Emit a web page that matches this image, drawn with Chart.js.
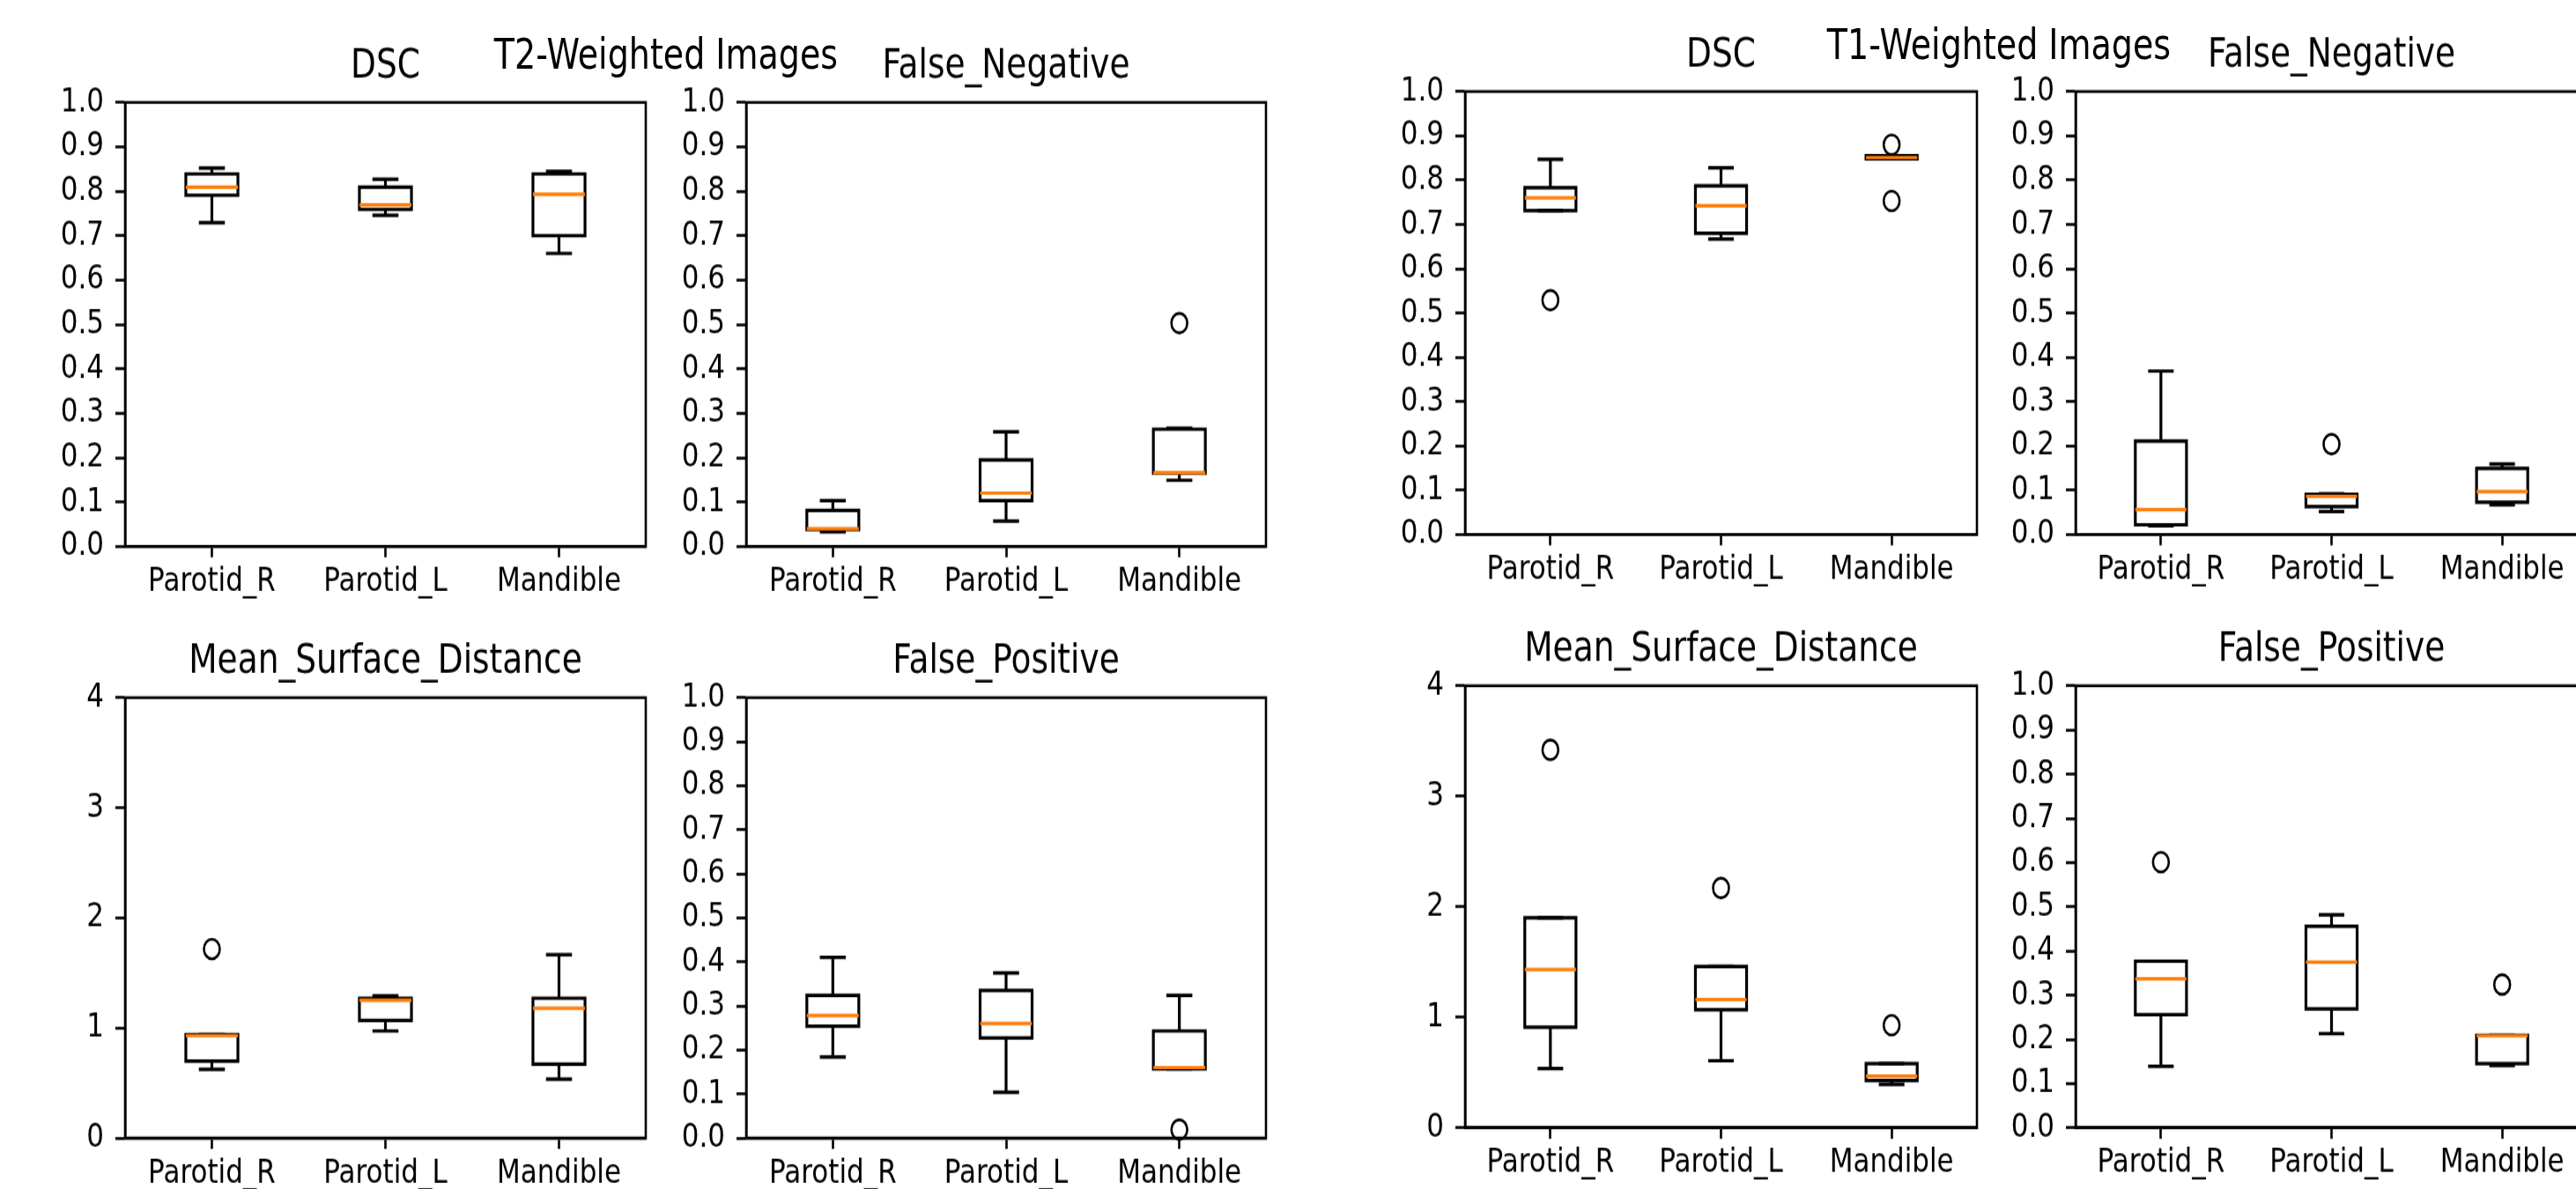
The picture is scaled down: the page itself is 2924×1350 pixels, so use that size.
<!DOCTYPE html>
<html>
<head>
<meta charset="utf-8">
<title>T2 / T1 weighted boxplots</title>
<script src="https://cdn.jsdelivr.net/npm/chart.js@4.4.1/dist/chart.umd.min.js"></script>
<style>
  html, body { margin: 0; padding: 0; background: #fff; overflow: hidden; }
  body { width: 2924px; height: 1350px; position: relative; }
  #stage { position: absolute; left: 0; top: 0; width: 2924px; height: 1089px; transform-origin: 0 0; }
  .panel { position: absolute; }
  .suptitle { position: absolute; width: 700px; text-align: center; color: #000;
              font-family: "DejaVu Sans"; font-size: 38px; line-height: 38px; white-space: nowrap; }
</style>
</head>
<body>
<div id="stage"></div>
<script>
const CATEGORIES = ['Parotid_R', 'Parotid_L', 'Mandible'];
const FRACTION_TICKS = ['0.0', '0.1', '0.2', '0.3', '0.4', '0.5', '0.6', '0.7', '0.8', '0.9', '1.0'];
const DISTANCE_TICKS = ['0', '1', '2', '3', '4'];

// one row per category: [lower whisker, q1, median, q3, upper whisker]
const T2_DSC = [[0.729, 0.791, 0.809, 0.839, 0.852], [0.746, 0.759, 0.769, 0.809, 0.827], [0.660, 0.700, 0.793, 0.839, 0.845]];
const T2_DSC_OUTLIERS = [[], [], []];
const T2_FN = [[0.033, 0.038, 0.040, 0.081, 0.103], [0.057, 0.103, 0.120, 0.195, 0.258], [0.149, 0.165, 0.166, 0.264, 0.266]];
const T2_FN_OUTLIERS = [[], [], [0.503]];
const T2_MSD = [[0.623, 0.698, 0.930, 0.940, 0.940], [0.972, 1.067, 1.252, 1.270, 1.290], [0.535, 0.671, 1.180, 1.270, 1.666]];
const T2_MSD_OUTLIERS = [[1.717], [], []];
const T2_FP = [[0.184, 0.254, 0.278, 0.324, 0.410], [0.104, 0.227, 0.260, 0.335, 0.375], [0.157, 0.157, 0.160, 0.243, 0.324]];
const T2_FP_OUTLIERS = [[], [], [0.019]];

const T1_DSC = [[0.731, 0.731, 0.760, 0.783, 0.847], [0.667, 0.680, 0.742, 0.787, 0.828], [0.848, 0.848, 0.851, 0.855, 0.855]];
const T1_DSC_OUTLIERS = [[0.529], [], [0.880, 0.753]];
const T1_FN = [[0.020, 0.022, 0.056, 0.211, 0.369], [0.052, 0.063, 0.086, 0.091, 0.092], [0.067, 0.073, 0.097, 0.149, 0.159]];
const T1_FN_OUTLIERS = [[], [0.204], []];
const T1_MSD = [[0.536, 0.911, 1.433, 1.900, 1.900], [0.607, 1.068, 1.160, 1.460, 1.460], [0.393, 0.427, 0.468, 0.580, 0.580]];
const T1_MSD_OUTLIERS = [[3.42], [2.17], [0.928]];
const T1_FP = [[0.139, 0.256, 0.337, 0.377, 0.377], [0.213, 0.269, 0.375, 0.456, 0.482], [0.141, 0.145, 0.208, 0.209, 0.209]];
const T1_FP_OUTLIERS = [[0.601], [], [0.324]];

const SUPTITLES = ['T2-Weighted Images', 'T1-Weighted Images'];

// layout (page px): frame = [left, top, right, bottom] of each axes box
const PANELS = [
  { title: 'DSC', stats: T2_DSC, outliers: T2_DSC_OUTLIERS, ticks: FRACTION_TICKS, frame: [142, 116, 733, 620] },
  { title: 'False_Negative', stats: T2_FN, outliers: T2_FN_OUTLIERS, ticks: FRACTION_TICKS, frame: [847, 116, 1437, 620] },
  { title: 'Mean_Surface_Distance', stats: T2_MSD, outliers: T2_MSD_OUTLIERS, ticks: DISTANCE_TICKS, frame: [142, 792, 733, 1292] },
  { title: 'False_Positive', stats: T2_FP, outliers: T2_FP_OUTLIERS, ticks: FRACTION_TICKS, frame: [847, 792, 1437, 1292] },
  { title: 'DSC', stats: T1_DSC, outliers: T1_DSC_OUTLIERS, ticks: FRACTION_TICKS, frame: [1663, 104, 2244, 607] },
  { title: 'False_Negative', stats: T1_FN, outliers: T1_FN_OUTLIERS, ticks: FRACTION_TICKS, frame: [2356, 104, 2937, 607] },
  { title: 'Mean_Surface_Distance', stats: T1_MSD, outliers: T1_MSD_OUTLIERS, ticks: DISTANCE_TICKS, frame: [1663, 779, 2244, 1280] },
  { title: 'False_Positive', stats: T1_FP, outliers: T1_FP_OUTLIERS, ticks: FRACTION_TICKS, frame: [2356, 779, 2937, 1280] },
];
const SUPTITLE_POS = [[756, 61.5], [2269, 50]];

const S = 1.24;            // the picture is stretched vertically
const Y_AXIS_W = 120;
const X_AXIS_H = 80;
const TITLE_SIZE = 37.5;
const TITLE_PAD = 9.8;
const TITLE_H = TITLE_SIZE * 1.2 + TITLE_PAD;
const TICK_SIZE = 31;
const LINE_W = 3.2;
const BOX_HALF = 0.15;
const CAP_HALF = 0.075;
const ORANGE = '#ff7f0e';

Chart.defaults.font.family = '"DejaVu Sans"';
Chart.defaults.color = '#000';

const stage = document.getElementById('stage');
stage.style.transform = 'scaleY(' + S + ')';

const framePlugin = {
  id: 'frame',
  afterDraw(chart) {
    const { ctx, chartArea: a } = chart;
    ctx.save();
    ctx.strokeStyle = '#000';
    ctx.lineWidth = 2.6;
    ctx.strokeRect(a.left, a.top, a.right - a.left, a.bottom - a.top);
    ctx.restore();
  },
};

function boxSegments(stats) {
  const box = [], whisk = [], med = [];
  stats.forEach(([lo, q1, md, q3, hi], i) => {
    const x = i + 1;
    box.push({ x: x - BOX_HALF, y: q1 }, { x: x + BOX_HALF, y: q1 }, { x: x + BOX_HALF, y: q3 },
      { x: x - BOX_HALF, y: q3 }, { x: x - BOX_HALF, y: q1 }, { x: x, y: null });
    whisk.push({ x: x, y: q1 }, { x: x, y: lo }, { x: x, y: null },
      { x: x - CAP_HALF, y: lo }, { x: x + CAP_HALF, y: lo }, { x: x, y: null },
      { x: x, y: q3 }, { x: x, y: hi }, { x: x, y: null },
      { x: x - CAP_HALF, y: hi }, { x: x + CAP_HALF, y: hi }, { x: x, y: null });
    med.push({ x: x - BOX_HALF, y: md }, { x: x + BOX_HALF, y: md }, { x: x, y: null });
  });
  return { box, whisk, med };
}

function tickGrid(len) {
  return { display: true, drawOnChartArea: false, drawTicks: true, tickLength: len, tickWidth: 2.6, tickColor: '#000' };
}

PANELS.forEach((p) => {
  const [L, T, R, B] = p.frame;
  const div = document.createElement('div');
  div.className = 'panel';
  div.style.left = (L - Y_AXIS_W) + 'px';
  div.style.top = (T / S - TITLE_H) + 'px';
  div.style.width = (R - L + Y_AXIS_W + 20) + 'px';
  div.style.height = (TITLE_H + (B - T) / S + X_AXIS_H) + 'px';
  const canvas = document.createElement('canvas');
  div.appendChild(canvas);
  stage.appendChild(div);

  const seg = boxSegments(p.stats);
  const outPts = p.outliers.flatMap((vals, i) => vals.map((v) => ({ x: i + 1, y: v })));
  const yTicks = p.ticks;

  new Chart(canvas, {
    type: 'scatter',
    data: {
      datasets: [
        { data: seg.med, showLine: true, borderColor: ORANGE, borderWidth: LINE_W, pointRadius: 0, spanGaps: false, order: 0 },
        { data: outPts, showLine: false, pointRadius: 9, pointBorderWidth: 2.6, pointBorderColor: '#000',
          pointBackgroundColor: 'rgba(0,0,0,0)', clip: false, order: 1 },
        { data: seg.box, showLine: true, borderColor: '#000', borderWidth: LINE_W, pointRadius: 0, spanGaps: false,
          borderJoinStyle: 'miter', borderCapStyle: 'square', order: 2 },
        { data: seg.whisk, showLine: true, borderColor: '#000', borderWidth: LINE_W, pointRadius: 0, spanGaps: false, order: 3 },
      ],
    },
    options: {
      responsive: true,
      maintainAspectRatio: false,
      animation: false,
      events: [],
      layout: { padding: { left: 0, right: 20, top: 0, bottom: 0 } },
      plugins: {
        legend: { display: false },
        tooltip: { enabled: false },
        title: {
          display: true,
          fullSize: false,
          text: p.title,
          color: '#000',
          font: { size: TITLE_SIZE, weight: 'normal', lineHeight: 1.2 },
          padding: { top: 0, bottom: TITLE_PAD },
        },
      },
      scales: {
        x: {
          type: 'linear',
          min: 0.5,
          max: 3.5,
          afterBuildTicks: (s) => { s.ticks = CATEGORIES.map((c, i) => ({ value: i + 1 })); },
          afterFit: (s) => { s.height = X_AXIS_H; },
          ticks: { callback: (v, i) => CATEGORIES[i], color: '#000', font: { size: TICK_SIZE },
                   padding: 4, maxRotation: 0, autoSkip: false },
          grid: tickGrid(10),
          border: { display: true, color: '#000', width: 2.6 },
        },
        y: {
          type: 'linear',
          min: parseFloat(yTicks[0]),
          max: parseFloat(yTicks[yTicks.length - 1]),
          afterBuildTicks: (s) => { s.ticks = yTicks.map((t) => ({ value: parseFloat(t) })); },
          afterFit: (s) => { s.width = Y_AXIS_W; },
          ticks: { callback: (v, i) => yTicks[i], color: '#000', font: { size: TICK_SIZE },
                   padding: 13, autoSkip: false },
          grid: tickGrid(11),
          border: { display: true, color: '#000', width: 2.6 },
        },
      },
    },
    plugins: [framePlugin],
  });
});

SUPTITLES.forEach((text, k) => {
  const [cx, cy] = SUPTITLE_POS[k];
  const el = document.createElement('div');
  el.className = 'suptitle';
  el.textContent = text;
  el.style.left = (cx - 350) + 'px';
  el.style.top = (cy / S - 18.3) + 'px';
  stage.appendChild(el);
});
</script>
</body>
</html>
